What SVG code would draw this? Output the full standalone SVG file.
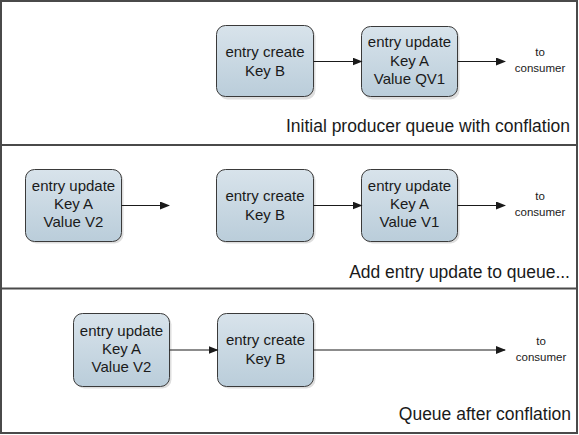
<svg xmlns="http://www.w3.org/2000/svg" width="579" height="435" viewBox="0 0 579 435">
<defs>
<linearGradient id="g" x1="0" y1="0" x2="0" y2="1">
<stop offset="0" stop-color="#d8e3eb"/>
<stop offset="1" stop-color="#bacdda"/>
</linearGradient>
<marker id="ah" markerWidth="10" markerHeight="8" refX="9" refY="4" orient="auto" markerUnits="userSpaceOnUse">
<path d="M0,0 L10,4 L0,8 Z" fill="#1a1a1a"/>
</marker>
</defs>
<style>
.frame{fill:#fff;stroke:#4a4a4a;stroke-width:2}
.sep{stroke:#4a4a4a;stroke-width:2}
.shadow{fill:#c8c8c8;opacity:0.6}
.box{fill:url(#g);stroke:#3a3a3a;stroke-width:1}
.t{font-family:"Liberation Sans",Arial,sans-serif;font-size:15px;fill:#1a1a1a;text-anchor:middle}
.s{font-family:"Liberation Sans",Arial,sans-serif;font-size:11.5px;fill:#1a1a1a;text-anchor:middle}
.title{font-family:"Liberation Sans",Arial,sans-serif;font-size:17.5px;fill:#1a1a1a;text-anchor:end}
.c{stroke:#1a1a1a;stroke-width:1.2;fill:none;marker-end:url(#ah)}
</style>
<rect class="frame" x="1" y="1" width="576" height="432"/>
<line class="sep" x1="1" y1="145" x2="577" y2="145"/>
<line class="sep" x1="1" y1="288.5" x2="577" y2="288.5"/>

<text class="title" x="570" y="132">Initial producer queue with conflation</text>
<text class="title" x="570" y="277.5">Add entry update to queue...</text>
<text class="title" x="571" y="420">Queue after conflation</text>

<g id="p1-create">
<rect class="shadow" x="218.5" y="27.5" width="97" height="72" rx="9"/>
<rect class="box" x="216.5" y="25.5" width="97" height="71" rx="9"/>
<text class="t" x="265" y="56.5">entry create</text>
<text class="t" x="265" y="75.5">Key B</text>
</g>
<g id="p1-update">
<rect class="shadow" x="363.5" y="28.5" width="96" height="71" rx="9"/>
<rect class="box" x="361.5" y="26.5" width="96" height="70" rx="9"/>
<text class="t" x="409.5" y="47">entry update</text>
<text class="t" x="409.5" y="65.5">Key A</text>
<text class="t" x="409.5" y="84">Value QV1</text>
</g>
<g id="p1-consumer">
<text class="s" x="540" y="56">to</text>
<text class="s" x="540" y="72">consumer</text>
</g>

<g id="p2-new">
<rect class="shadow" x="27.5" y="171.5" width="96" height="72" rx="9"/>
<rect class="box" x="25.5" y="169.5" width="96" height="72" rx="9"/>
<text class="t" x="73.5" y="191">entry update</text>
<text class="t" x="73.5" y="209">Key A</text>
<text class="t" x="73.5" y="227">Value V2</text>
</g>
<g id="p2-create">
<rect class="shadow" x="218.5" y="171.5" width="97" height="72" rx="9"/>
<rect class="box" x="216.5" y="169.5" width="97" height="72" rx="9"/>
<text class="t" x="265" y="200.5">entry create</text>
<text class="t" x="265" y="219.5">Key B</text>
</g>
<g id="p2-update">
<rect class="shadow" x="363.5" y="171.5" width="96" height="72" rx="9"/>
<rect class="box" x="361.5" y="169.5" width="96" height="72" rx="9"/>
<text class="t" x="409.5" y="191">entry update</text>
<text class="t" x="409.5" y="209">Key A</text>
<text class="t" x="409.5" y="227">Value V1</text>
</g>
<g id="p2-consumer">
<text class="s" x="540" y="200">to</text>
<text class="s" x="540" y="216">consumer</text>
</g>

<g id="p3-update">
<rect class="shadow" x="75.5" y="315.5" width="96" height="73" rx="9"/>
<rect class="box" x="73.5" y="313.5" width="96" height="73" rx="9"/>
<text class="t" x="121.5" y="336">entry update</text>
<text class="t" x="121.5" y="354">Key A</text>
<text class="t" x="121.5" y="372">Value V2</text>
</g>
<g id="p3-create">
<rect class="shadow" x="219.5" y="315.5" width="96" height="73" rx="9"/>
<rect class="box" x="217.5" y="313.5" width="96" height="73" rx="9"/>
<text class="t" x="265.5" y="345">entry create</text>
<text class="t" x="265.5" y="364">Key B</text>
</g>
<g id="p3-consumer">
<text class="s" x="541" y="345">to</text>
<text class="s" x="541" y="361">consumer</text>
</g>

<g id="connectors">
<line class="c" x1="313.5" y1="61.5" x2="361.5" y2="61.5"/>
<line class="c" x1="457.5" y1="61.5" x2="505" y2="61.5"/>
<line class="c" x1="121.5" y1="205.5" x2="169" y2="205.5"/>
<line class="c" x1="313.5" y1="205.5" x2="361.5" y2="205.5"/>
<line class="c" x1="457.5" y1="205.5" x2="505" y2="205.5"/>
<line class="c" x1="169.5" y1="350" x2="217.5" y2="350"/>
<line class="c" x1="313.5" y1="350" x2="505" y2="350"/>
</g>
</svg>
